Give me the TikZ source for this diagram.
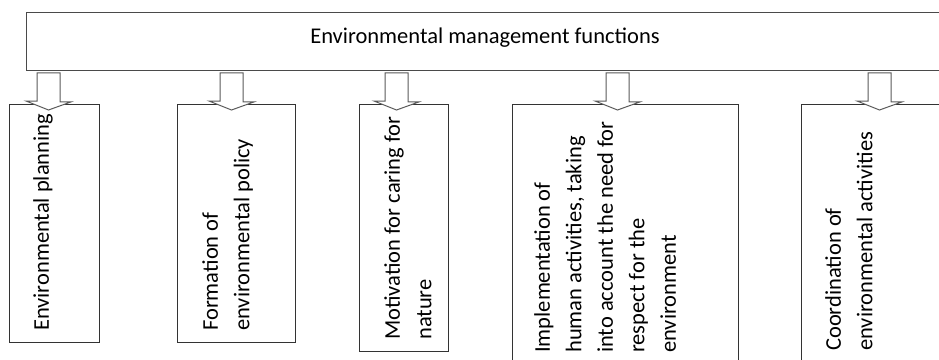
\documentclass[tikz,border=0pt]{standalone}
\usepackage{fontspec}
\setmainfont{Carlito}
\usetikzlibrary{calc}
\definecolor{edgetop}{HTML}{4A4A4A}
\definecolor{edgebox}{HTML}{333333}
\definecolor{edgearrow}{HTML}{5A5A5A}
\tikzset{
  topbox/.style={draw=edgetop, line width=1.4pt, fill=white, inner sep=0pt, anchor=north west},
  funcbox/.style={draw=edgebox, line width=1pt, fill=white, inner sep=0pt, anchor=north west},
  blockarrow/.style={draw=edgearrow, line width=1pt, fill=white, line join=miter},
  txt/.style={font=\fontsize{22.5}{31.5}\selectfont, inner sep=0pt, text=black},
  vtext/.style={txt, rotate=90, align=left, anchor=north west},
}
% #1: coordinate giving the arrow's x, #2: target box
\newcommand\dnarrowto[2]{%
  \draw[blockarrow] ($(top.south -| #1)+(-11.5,2)$) -- ++(23,0) -- ++(0,29) -- ++(11,0)
    -- ($(#2.north -| #1)+(0,6)$) -- ++(-22.5,-9) -- ++(11,0) -- cycle;}
\begin{document}
\begin{tikzpicture}[x=1pt,y=-1pt]
\path[use as bounding box, clip] (0,0) rectangle (939,359);
\fill[white] (0,0) rectangle (939,359);
% top box
\node[topbox, minimum width=918pt, minimum height=57.5pt] (top) at (26,12) {};
\node[txt, anchor=base] (title) at (485,43) {Environmental management functions};
% function boxes
\node[funcbox, minimum width=90pt, minimum height=238pt] (b1) at (9,104) {};
\node[funcbox, minimum width=118pt, minimum height=238pt] (b2) at (177,104) {};
\node[funcbox, minimum width=89pt, minimum height=247pt] (b3) at (359,104) {};
\node[funcbox, minimum width=226pt, minimum height=260pt] (b4) at (512,104) {};
\node[funcbox, minimum width=160pt, minimum height=258pt] (b5) at (801,104) {};
% arrow x positions
\coordinate (c1) at (48.5,0);
\coordinate (c2) at (231.5,0);
\coordinate (c3) at (396.5,0);
\coordinate (c4) at (617.5,0);
\coordinate (c5) at (879.5,0);
\dnarrowto{c1}{b1}
\dnarrowto{c2}{b2}
\dnarrowto{c3}{b3}
\dnarrowto{c4}{b4}
\dnarrowto{c5}{b5}
% texts
\node[vtext] (t1) at ($(b1.south west)+(24,-12)$) {Environmental planning};
\node[vtext] (t2) at ($(b2.south west)+(25,-12)$) {Formation of\\environmental policy};
\node[vtext] (t3) at ($(b3.south west)+(25,-12)$) {Motivation for caring for\\nature};
\node[vtext] (t4) at ($(b4.south west)+(22,-12)$) {Implementation of\\human activities, taking\\into account the need for\\respect for the\\environment};
\node[vtext] (t5) at ($(b5.south west)+(24,-12)$) {Coordination of\\environmental activities};
\end{tikzpicture}
\end{document}
